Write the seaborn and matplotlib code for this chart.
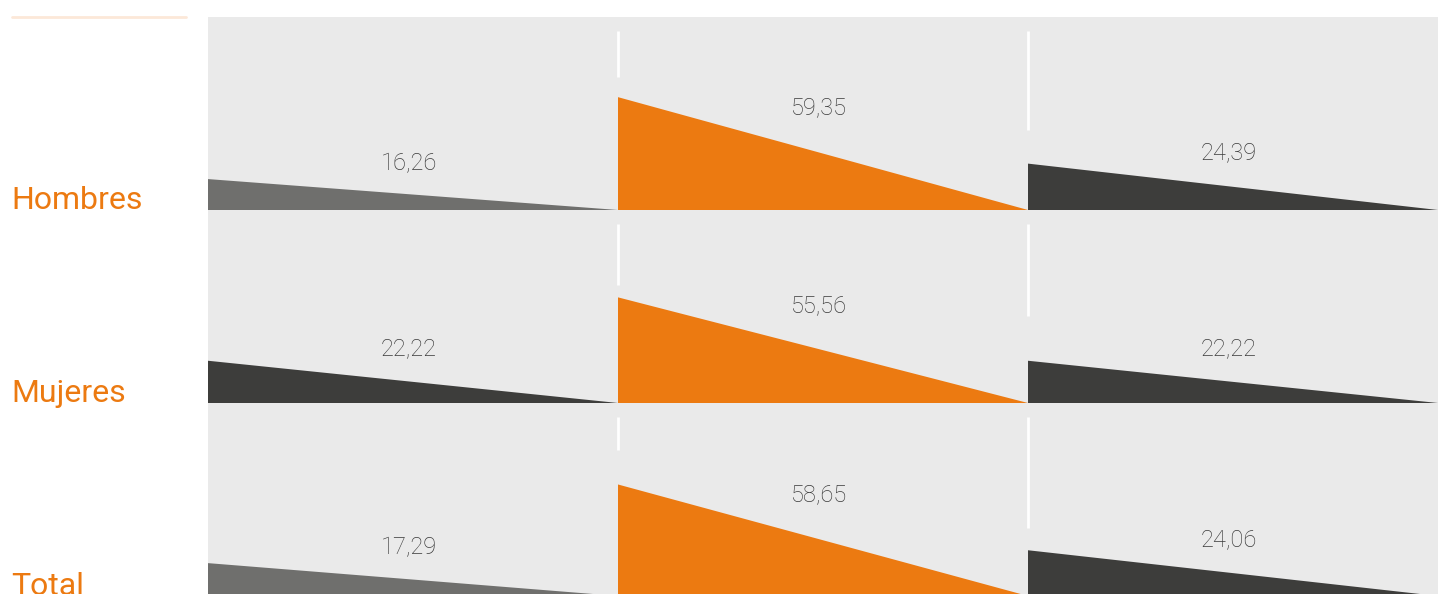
import matplotlib
matplotlib.use('Agg')
from matplotlib import pyplot as plt
import seaborn as sns

# values
GROUPS = ['Hombres', 'Mujeres', 'Total']
HOMBRES = [16.26, 59.35, 24.39]
MUJERES = [22.22, 55.56, 22.22]
TOTAL = [17.29, 58.65, 24.06]
LABELS = {
    'Hombres': ['16,26', '59,35', '24,39'],
    'Mujeres': ['22,22', '55,56', '22,22'],
    'Total': ['17,29', '58,65', '24,06'],
}

# colours
ORANGE = '#EC7A11'
GREY = '#6F6F6D'
DARK = '#3D3D3B'
BG = '#EAEAEA'
TEXT = '#3A3A3A'
ROW_COLORS = [
    [GREY, ORANGE, DARK],
    [DARK, ORANGE, DARK],
    [GREY, ORANGE, DARK],
]
# white divider stubs at column borders (row units, top / bottom ends)
DIVIDER_TOP = 94
DIVIDER_ENDS = [[70, 42], [62, 46], [77, 36]]

W, H = 1438, 594
PANEL_LEFT, PANEL_TOP, ROW_H = 208, 17, 193

sns.set_theme(style='white')
plt.rcParams['font.family'] = ['Roboto', 'DejaVu Sans']

fig = plt.figure(figsize=(W / 100, H / 100), dpi=100)

for i, (group, values) in enumerate(zip(GROUPS, [HOMBRES, MUJERES, TOTAL])):
    bottom = 1 - (PANEL_TOP + ROW_H * (i + 1)) / H
    ax = fig.add_axes([PANEL_LEFT / W, bottom, (W - PANEL_LEFT) / W, ROW_H / H])
    ax.set_facecolor(BG)
    ax.set_xlim(0, 3)
    ax.set_ylim(0, 101.5)

    for c, v in enumerate(values):
        # right triangle: tall edge on the left, sloping down to the next column
        ax.fill([c, c, c + 1], [0, v, 0], color=ROW_COLORS[i][c], lw=0, zorder=2)
        ax.text(c + 0.49, 0.675 * v + 13.6, LABELS[group][c], ha='center', va='center',
                fontsize=17, color=TEXT, fontweight='light', zorder=3)

    for k, end in enumerate(DIVIDER_ENDS[i]):
        ax.plot([k + 1, k + 1], [DIVIDER_TOP, end], color='white', lw=2, zorder=1,
                solid_capstyle='butt')

    ax.set_xticks([])
    ax.set_yticks([])
    sns.despine(ax=ax, left=True, bottom=True)

    # row label on the left, sitting on the baseline
    fig.text(11 / W, 1 - (PANEL_TOP + ROW_H * (i + 1) - 1) / H, group, ha='left', va='baseline',
             fontsize=23, color=ORANGE)

# thin accent line top-left
fig.add_artist(plt.Line2D([12 / W, 186 / W], [1 - 17 / H, 1 - 17 / H], color='#FCE8D8', lw=2))

plt.savefig('out.png', dpi=100)
